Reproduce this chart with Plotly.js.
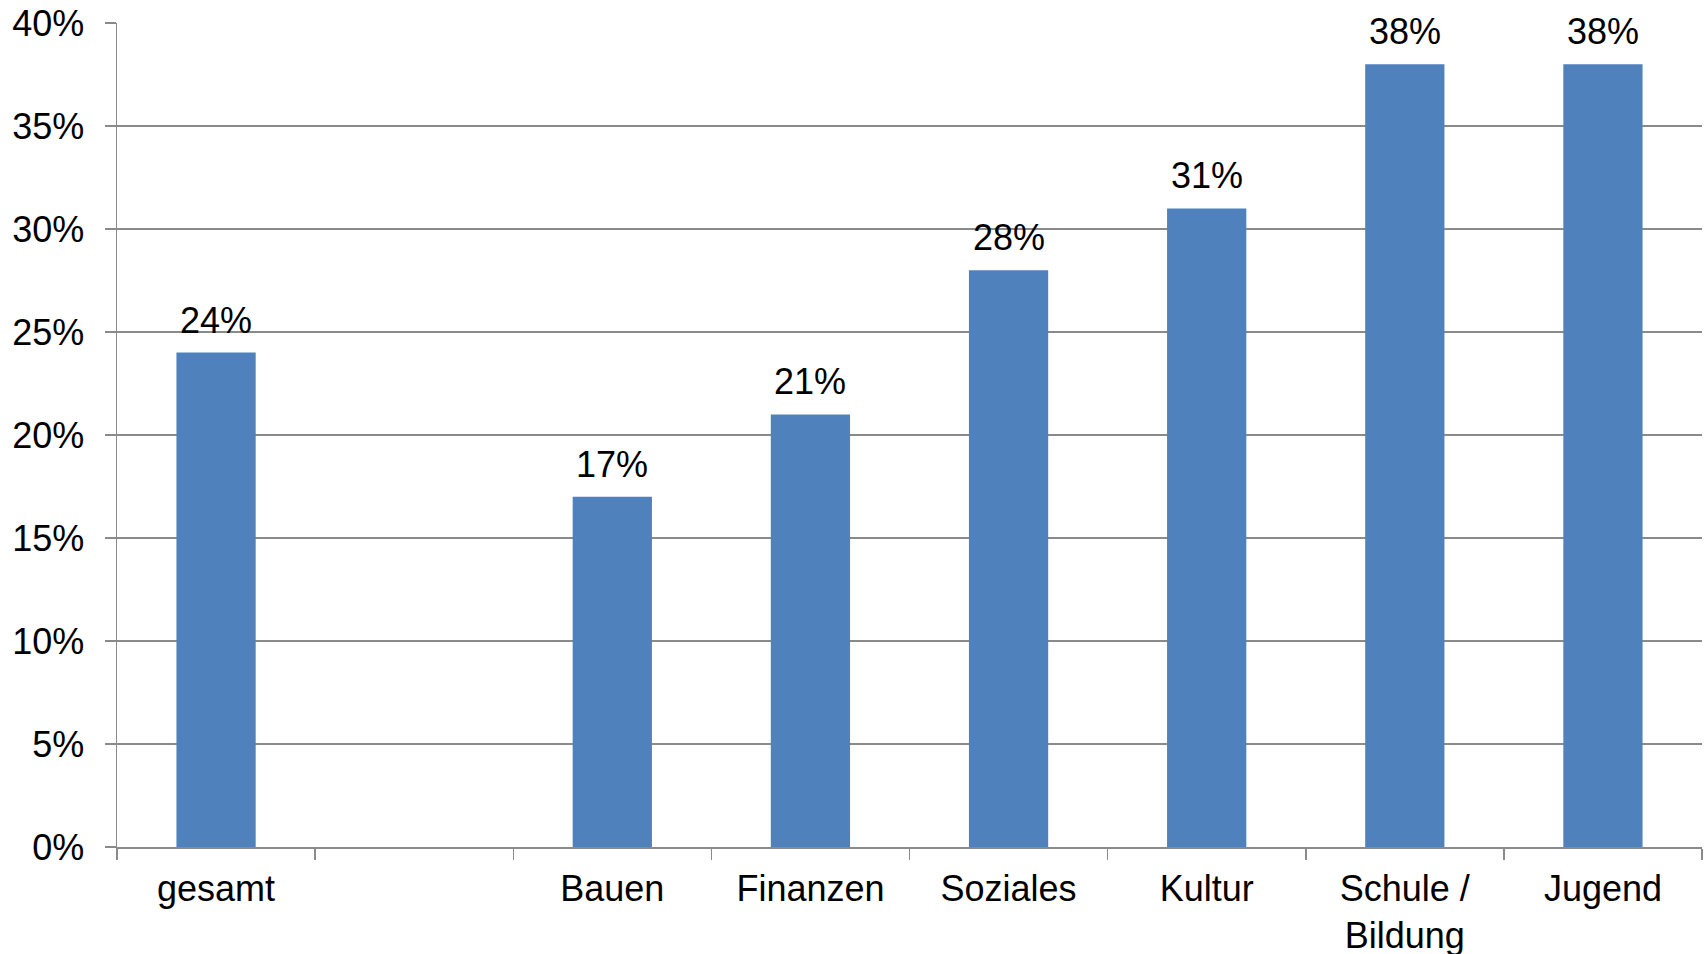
<!DOCTYPE html>
<html>
<head>
<meta charset="utf-8">
<script src="https://cdn.plot.ly/plotly-3.0.1.min.js"></script>
<style>html,body{margin:0;padding:0;background:#fff;}#chart{width:1705px;height:954px;}</style>
</head>
<body>
<div id="chart"></div>
<script>
const categories = ["gesamt", " ", "Bauen", "Finanzen", "Soziales", "Kultur", "Schule /<br>Bildung", "Jugend"];
const values = [24, null, 17, 21, 28, 31, 38, 38];
const valueLabels = ["24%", "", "17%", "21%", "28%", "31%", "38%", "38%"];
const yTickValues = [0, 5, 10, 15, 20, 25, 30, 35, 40];
const yTickLabels = ["0%", "5%", "10%", "15%", "20%", "25%", "30%", "35%", "40%"];

const font = "Liberation Sans, Arial, sans-serif";
const gray = "#8a8a8a";

const trace = {
  type: "bar",
  x: categories,
  y: values,
  marker: {color: "#4f81bd"},
  hoverinfo: "skip"
};

const annotations = [];
categories.forEach((c, i) => {
  if (values[i] === null) return;
  annotations.push({
    x: c, y: values[i], xref: "x", yref: "y",
    text: valueLabels[i], showarrow: false,
    yanchor: "bottom", yshift: 10,
    font: {family: font, size: 36, color: "#000"}
  });
});

const layout = {
  width: 1705, height: 954,
  margin: {l: 117, r: 3, t: 23, b: 107, pad: 0},
  paper_bgcolor: "#fff", plot_bgcolor: "#fff",
  showlegend: false,
  bargap: 0.6,
  font: {family: font, size: 36, color: "#000"},
  xaxis: {
    type: "category",
    categoryorder: "array", categoryarray: categories,
    tickson: "boundaries",
    ticks: "outside", ticklen: 11, tickcolor: gray, tickwidth: 1.5,
    showline: true, linecolor: gray, linewidth: 1.5,
    showgrid: false, zeroline: false,
    tickfont: {family: font, size: 36, color: "#000"},
    ticklabelstandoff: 9
  },
  yaxis: {
    range: [0, 40],
    tickvals: yTickValues, ticktext: yTickLabels,
    ticks: "outside", ticklen: 11, tickcolor: gray, tickwidth: 1.5,
    showline: true, linecolor: gray, linewidth: 1.5,
    showgrid: true, gridcolor: gray, gridwidth: 1.5,
    zeroline: false,
    tickfont: {family: font, size: 36, color: "#000"},
    ticklabelstandoff: 13
  },
  annotations: annotations
};

Plotly.newPlot("chart", [trace], layout, {displayModeBar: false, staticPlot: true});
</script>
</body>
</html>
